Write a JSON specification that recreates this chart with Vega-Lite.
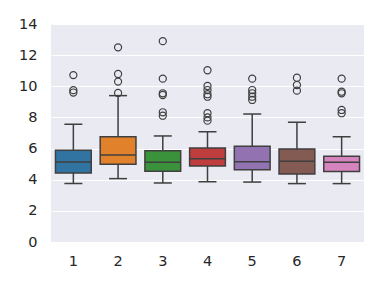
{
  "$schema": "https://vega.github.io/schema/vega-lite/v6.json",
  "width": 313,
  "height": 218,
  "autosize": {"type": "none"},
  "padding": {"left": 51, "top": 24, "right": 18, "bottom": 45},
  "background": "white",
  "config": {
    "view": {"fill": "#EAEAF2", "stroke": null},
    "axis": {"labelFont": "DejaVu Sans", "labelFontSize": 14.5, "labelColor": "#262626", "domain": false, "ticks": false, "title": null, "labelOverlap": false}
  },
  "datasets": {
    "boxes": [
      {"g": "1", "lower": 3.75, "q1": 4.43, "median": 5.14, "q3": 5.89, "upper": 7.56},
      {"g": "2", "lower": 4.07, "q1": 4.99, "median": 5.59, "q3": 6.76, "upper": 9.4},
      {"g": "3", "lower": 3.79, "q1": 4.54, "median": 5.12, "q3": 5.86, "upper": 6.81},
      {"g": "4", "lower": 3.87, "q1": 4.88, "median": 5.35, "q3": 6.04, "upper": 7.08},
      {"g": "5", "lower": 3.85, "q1": 4.64, "median": 5.16, "q3": 6.15, "upper": 8.22},
      {"g": "6", "lower": 3.75, "q1": 4.37, "median": 5.18, "q3": 5.97, "upper": 7.69},
      {"g": "7", "lower": 3.75, "q1": 4.52, "median": 5.12, "q3": 5.5, "upper": 6.76}
    ],
    "outliers": [
      {"g": "1", "v": 10.72}, {"g": "1", "v": 9.75}, {"g": "1", "v": 9.6},
      {"g": "2", "v": 12.5}, {"g": "2", "v": 10.79}, {"g": "2", "v": 10.3}, {"g": "2", "v": 9.57},
      {"g": "3", "v": 12.9}, {"g": "3", "v": 10.49}, {"g": "3", "v": 9.55}, {"g": "3", "v": 9.44}, {"g": "3", "v": 8.33}, {"g": "3", "v": 8.11},
      {"g": "4", "v": 11.03}, {"g": "4", "v": 10.02}, {"g": "4", "v": 9.76}, {"g": "4", "v": 9.49}, {"g": "4", "v": 9.33}, {"g": "4", "v": 8.27}, {"g": "4", "v": 8.0}, {"g": "4", "v": 7.79},
      {"g": "5", "v": 10.49}, {"g": "5", "v": 9.76}, {"g": "5", "v": 9.55}, {"g": "5", "v": 9.33}, {"g": "5", "v": 9.12},
      {"g": "6", "v": 10.55}, {"g": "6", "v": 10.08}, {"g": "6", "v": 9.72},
      {"g": "7", "v": 10.49}, {"g": "7", "v": 9.65}, {"g": "7", "v": 9.55}, {"g": "7", "v": 8.48}, {"g": "7", "v": 8.27}
    ]
  },
  "encoding": {
    "x": {"field": "g", "type": "ordinal", "scale": {"paddingInner": 0, "paddingOuter": 0}, "axis": {"labelAngle": 0, "labelPadding": 12, "grid": false}}
  },
  "layer": [
    {
      "data": {"name": "boxes"},
      "mark": {"type": "rule", "color": "#3f3f3f", "strokeWidth": 1.5},
      "encoding": {
        "y": {"field": "lower", "type": "quantitative", "scale": {"domain": [0, 14]}, "axis": {"values": [0, 2, 4, 6, 8, 10, 12, 14], "grid": true, "gridColor": "white", "gridWidth": 1.2, "labelPadding": 14, "labelOverlap": false}},
        "y2": {"field": "upper"}
      }
    },
    {
      "data": {"name": "boxes"},
      "mark": {"type": "bar", "width": {"band": 0.8}, "stroke": "#3f3f3f", "strokeWidth": 1.5},
      "encoding": {
        "y": {"field": "q1", "type": "quantitative", "axis": {"values": [0, 2, 4, 6, 8, 10, 12, 14], "grid": true, "gridColor": "white", "gridWidth": 1.2, "labelPadding": 14, "labelOverlap": false}},
        "y2": {"field": "q3"},
        "fill": {"field": "g", "type": "nominal", "legend": null, "scale": {"range": ["#3274A1", "#E1812C", "#3A923A", "#C03D3E", "#9372B2", "#845B53", "#D684BD"]}}
      }
    },
    {
      "data": {"name": "boxes"},
      "mark": {"type": "tick", "color": "#3f3f3f", "size": 35.8, "thickness": 1.5, "opacity": 1},
      "encoding": {"y": {"field": "median", "type": "quantitative", "axis": {"values": [0, 2, 4, 6, 8, 10, 12, 14], "grid": true, "gridColor": "white", "gridWidth": 1.2, "labelPadding": 14, "labelOverlap": false}}}
    },
    {
      "data": {"name": "boxes"},
      "mark": {"type": "tick", "color": "#3f3f3f", "size": 18, "thickness": 1.5, "opacity": 1},
      "encoding": {"y": {"field": "lower", "type": "quantitative", "axis": {"values": [0, 2, 4, 6, 8, 10, 12, 14], "grid": true, "gridColor": "white", "gridWidth": 1.2, "labelPadding": 14, "labelOverlap": false}}}
    },
    {
      "data": {"name": "boxes"},
      "mark": {"type": "tick", "color": "#3f3f3f", "size": 18, "thickness": 1.5, "opacity": 1},
      "encoding": {"y": {"field": "upper", "type": "quantitative", "axis": {"values": [0, 2, 4, 6, 8, 10, 12, 14], "grid": true, "gridColor": "white", "gridWidth": 1.2, "labelPadding": 14, "labelOverlap": false}}}
    },
    {
      "data": {"name": "outliers"},
      "mark": {"type": "point", "shape": "circle", "filled": false, "stroke": "#3f3f3f", "strokeWidth": 1.2, "size": 50, "opacity": 1},
      "encoding": {"y": {"field": "v", "type": "quantitative", "axis": {"values": [0, 2, 4, 6, 8, 10, 12, 14], "grid": true, "gridColor": "white", "gridWidth": 1.2, "labelPadding": 14, "labelOverlap": false}}}
    }
  ]
}
